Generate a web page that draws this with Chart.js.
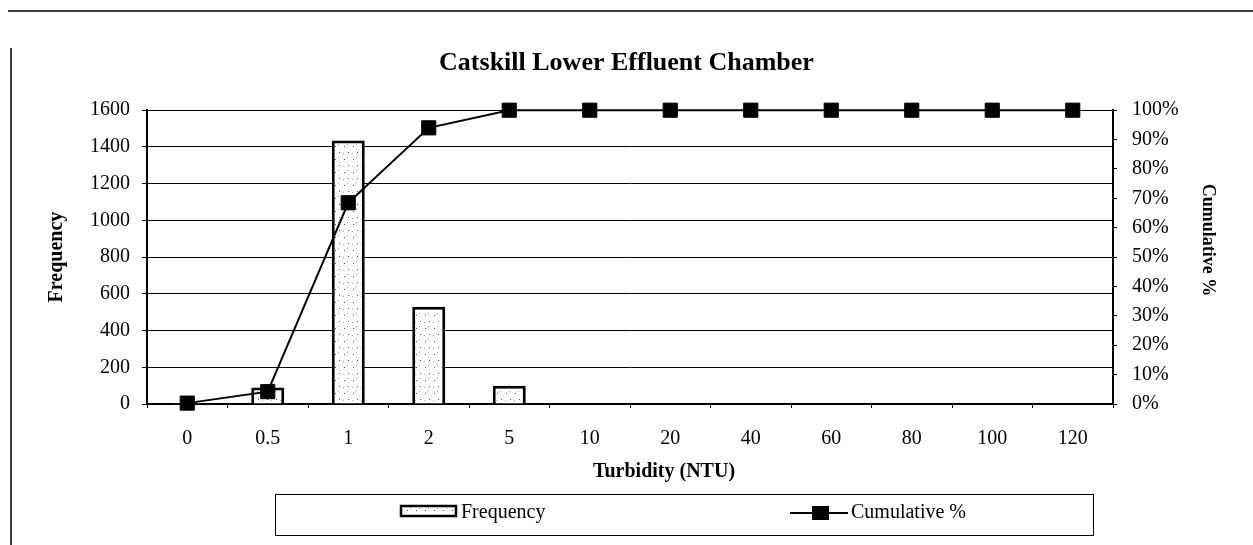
<!DOCTYPE html>
<html><head><meta charset="utf-8">
<script src="https://cdn.jsdelivr.net/npm/chart.js@4/dist/chart.umd.min.js"></script>
<style>html,body{margin:0;padding:0;background:#fff}canvas{display:block}</style>
</head><body>
<canvas id="c" width="1253" height="545"></canvas>
<script>
// ---- data ----
const chartTitle = 'Catskill Lower Effluent Chamber';
const categories = ['0','0.5','1','2','5','10','20','40','60','80','100','120'];
const frequency = [5, 90, 1435, 530, 100, 0, 0, 0, 0, 0, 0, 0];
const cumulativePct = [0.3, 4.2, 68.5, 94, 100, 100, 100, 100, 100, 100, 100, 100];
const freqRange = [0, 1600, 200];
const pctRange = [0, 100, 10];
const xTitle = 'Turbidity (NTU)';
const yTitle = 'Frequency';
const y2Title = 'Cumulative %';

const SERIF = '"Liberation Serif", "Times New Roman", Times, serif';
const canvas = document.getElementById('c');
const ctx = canvas.getContext('2d');

function makePattern() {
  const p = document.createElement('canvas');
  p.width = 9; p.height = 13;
  const g = p.getContext('2d');
  g.fillStyle = '#ffffff'; g.fillRect(0, 0, 9, 13);
  g.fillStyle = '#555'; g.fillRect(2, 3, 1, 1); g.fillRect(6, 9, 1, 1);
  g.fillStyle = '#aaa'; g.fillRect(5, 1, 1, 1); g.fillRect(1, 10, 1, 1);
  return ctx.createPattern(p, 'repeat');
}
const barFill = makePattern();

const decor = {
  id: 'decor',
  beforeDraw(chart) {
    const c = chart.ctx;
    c.save();
    c.fillStyle = '#fff';
    c.fillRect(0, 0, chart.width, chart.height);
    c.strokeStyle = '#000';
    c.lineWidth = 1.5;
    c.beginPath();
    c.moveTo(8, 11); c.lineTo(chart.width, 11);
    c.moveTo(11, 48); c.lineTo(11, chart.height);
    c.stroke();
    c.restore();
  },
  afterDraw(chart) {
    const c = chart.ctx;
    const ds = chart.data.datasets;
    c.save();
    // x axis title
    c.fillStyle = '#000';
    c.font = 'bold 20px ' + SERIF;
    c.textAlign = 'center'; c.textBaseline = 'middle';
    c.fillText(chart.options.scales.x.title.text, 664, 472);
    // right axis title (rotated)
    c.save();
    c.translate(1208, 240);
    c.rotate(Math.PI / 2);
    c.font = 'bold 18px ' + SERIF;
    c.fillText(chart.options.scales.y2.title.text, 0, 0);
    c.restore();
    // legend box
    c.strokeStyle = '#000'; c.lineWidth = 1;
    c.strokeRect(275.5, 494.5, 818, 41);
    // bar swatch
    const bar = ds[1];
    c.fillStyle = bar.backgroundColor;
    c.fillRect(400, 505, 57, 12);
    c.lineWidth = 2.5; c.strokeStyle = bar.borderColor;
    c.strokeRect(401, 506, 55, 10);
    c.fillStyle = '#000';
    c.font = '20px ' + SERIF;
    c.textAlign = 'left';
    c.fillText(bar.label, 461, 513);
    // line swatch
    const ln = ds[0];
    c.strokeStyle = ln.borderColor; c.lineWidth = 2;
    c.beginPath(); c.moveTo(790, 513); c.lineTo(848, 513); c.stroke();
    c.fillStyle = ln.pointBackgroundColor;
    c.fillRect(812, 506, 17, 14);
    c.fillStyle = '#000';
    c.fillText(ln.label, 851, 513);
    c.restore();
  }
};

new Chart(ctx, {
  type: 'bar',
  data: {
    labels: categories,
    datasets: [
      {
        type: 'line', label: 'Cumulative %', data: cumulativePct, yAxisID: 'y2',
        borderColor: '#000', borderWidth: 2, pointStyle: 'rect', pointRadius: 10,
        pointBackgroundColor: '#000', pointBorderColor: '#000', pointBorderWidth: 1,
        tension: 0, order: 0, clip: false, fill: false
      },
      {
        type: 'bar', label: 'Frequency', data: frequency, yAxisID: 'y',
        backgroundColor: barFill, borderColor: '#000', borderWidth: 3,
        categoryPercentage: 1, barPercentage: 0.41, order: 1
      }
    ]
  },
  options: {
    responsive: false, animation: false,
    layout: { padding: 0 },
    plugins: {
      legend: { display: false },
      tooltip: { enabled: false },
      title: {
        display: true, text: chartTitle, color: '#000',
        font: { family: SERIF, size: 26, weight: 'bold' },
        padding: { top: 48, bottom: 31 }
      }
    },
    scales: {
      x: {
        offset: true,
        grid: { drawOnChartArea: false, drawTicks: true, tickLength: 4, color: '#000', offset: true },
        border: { display: true, color: '#000', width: 2 },
        ticks: { color: '#000', font: { family: SERIF, size: 20 }, padding: 19, maxRotation: 0 },
        title: { display: false, text: xTitle },
        afterFit(s) { s.height = 141; }
      },
      y: {
        position: 'left', min: freqRange[0], max: freqRange[1],
        grid: { color: '#000', lineWidth: 1, tickLength: 5 },
        border: { display: true, color: '#000', width: 2 },
        ticks: { stepSize: freqRange[2], color: '#000', font: { family: SERIF, size: 20 }, padding: 12, callback: v => String(v) },
        title: { display: true, text: yTitle, color: '#000', font: { family: SERIF, size: 20, weight: 'bold' }, padding: { top: 45, bottom: 0 } },
        afterFit(s) { s.width = 147; }
      },
      y2: {
        position: 'right', min: pctRange[0], max: pctRange[1],
        grid: { drawOnChartArea: false, color: '#000', tickLength: 4 },
        border: { display: true, color: '#000', width: 2 },
        ticks: { stepSize: pctRange[2], color: '#000', font: { family: SERIF, size: 20 }, padding: 15, callback: v => v + '%' },
        title: { display: false, text: y2Title },
        afterFit(s) { s.width = 140; }
      }
    }
  },
  plugins: [decor]
});
</script>
</body></html>
